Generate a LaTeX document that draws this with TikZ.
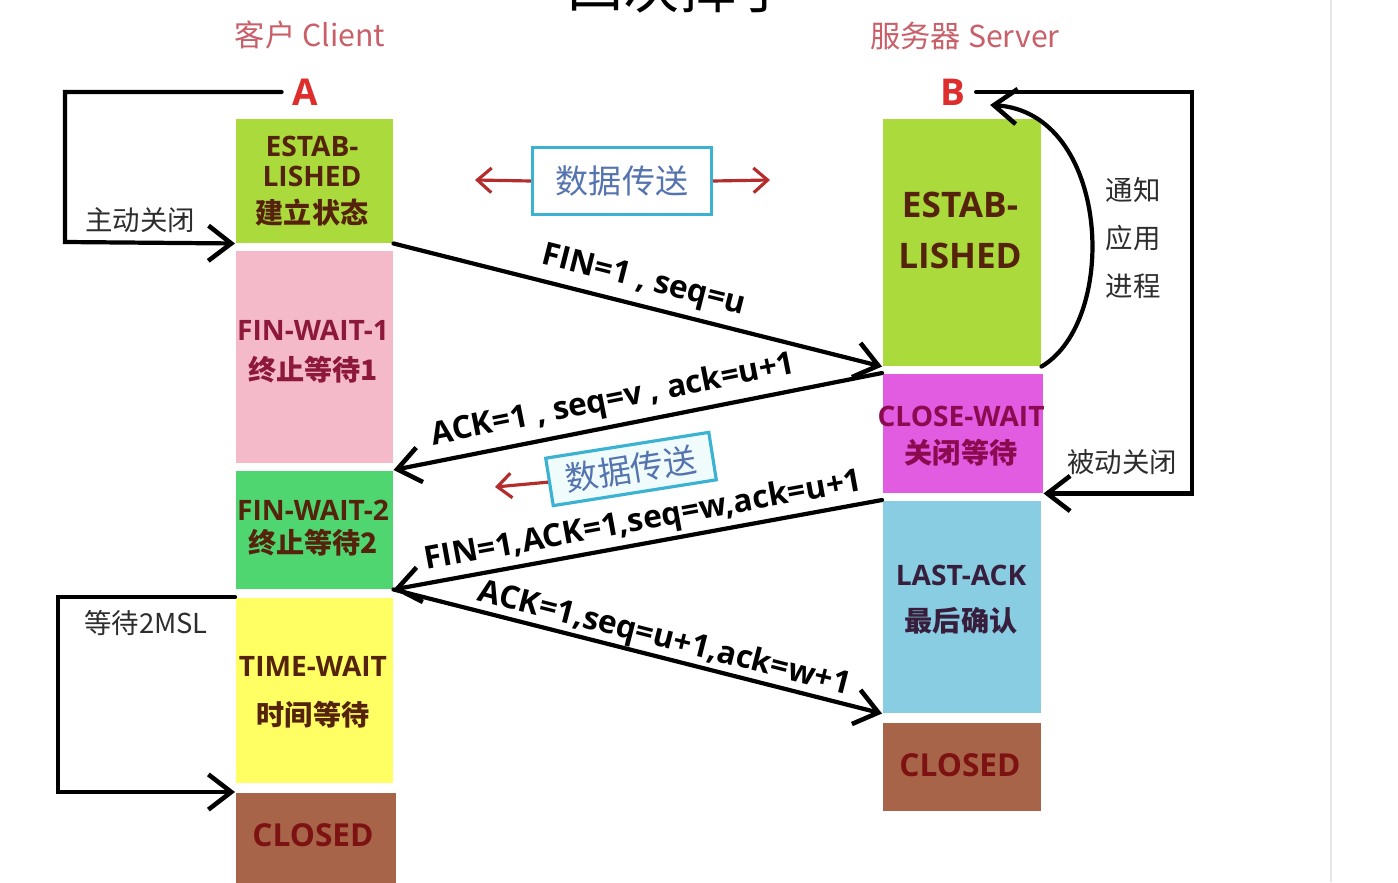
\documentclass[tikz,border=0pt]{standalone}
\usepackage{fontspec}
\setmainfont{Noto Sans CJK SC}
\newfontfamily\lat{Open Sans}
\usetikzlibrary{arrows.meta,calc}
\definecolor{cEst}{RGB}{170,218,60}
\definecolor{cPink}{RGB}{245,186,202}
\definecolor{cGreen}{RGB}{80,214,112}
\definecolor{cYel}{RGB}{255,255,100}
\definecolor{cBrown}{RGB}{168,100,72}
\definecolor{cMag}{RGB}{226,92,226}
\definecolor{cBlue}{RGB}{136,205,226}
\definecolor{hdr}{RGB}{200,95,105}
\definecolor{ltr}{RGB}{222,45,45}
\definecolor{tBrown}{RGB}{85,35,12}
\definecolor{tMaroon}{RGB}{140,25,60}
\definecolor{tDred}{RGB}{125,18,18}
\definecolor{tMag}{RGB}{140,10,80}
\definecolor{tPurp}{RGB}{55,30,60}
\definecolor{side}{RGB}{45,45,45}
\definecolor{dcyan}{RGB}{60,178,210}
\definecolor{dtext}{RGB}{85,115,175}
\definecolor{dred}{RGB}{180,45,45}
\definecolor{edge}{RGB}{230,230,230}
\begin{document}
\begin{tikzpicture}[x=0.01cm,y=-0.01cm,
  box/.style={rectangle, inner sep=0pt, anchor=north west},
  stlabel/.style={align=center, inner sep=0pt, font=\bfseries\fontsize{8pt}{9.5pt}\selectfont},
  wire/.style={line width=1.2pt, black, line cap=round},
  tip/.style={-{Straight Barb[length=6.5pt,width=10pt,line width=1.3pt]}},
  msg/.style={font=\lat\bfseries\fontsize{9pt}{11pt}\selectfont, sloped, above, inner sep=2pt},
  sidelab/.style={text=side, font=\fontsize{7.8pt}{13.6pt}\selectfont, align=center, inner sep=0pt},
  datab/.style={draw=dcyan, line width=0.9pt, fill=white, text=dtext, inner sep=0pt,
    font=\fontsize{9.4pt}{11pt}\selectfont},
  redarr/.style={draw=dred, line width=0.9pt, -{Straight Barb[length=4pt,width=7pt,line width=0.9pt]}}
]
\useasboundingbox (0,0) rectangle (1398,882);
\clip (0,0) rectangle (1398,882);
\fill[white] (0,0) rectangle (1398,882);
\draw[edge, line width=0.6pt] (1331,0) -- (1331,882);

% title (cut off at top)
\node[font=\fontsize{16pt}{18pt}\selectfont] (title) at (680,-13) {四次挥手};

% headers
\node[text=hdr, font=\fontsize{8.6pt}{10pt}\selectfont] (hc) at (310,35) {客户 Client};
\node[text=hdr, font=\fontsize{8.6pt}{10pt}\selectfont] (hs) at (965,36) {服务器 Server};
\node[text=ltr, font=\lat\bfseries\fontsize{10.5pt}{12pt}\selectfont, inner sep=0.1cm] (A) at (305,92) {A};
\node[text=ltr, font=\lat\bfseries\fontsize{10.5pt}{12pt}\selectfont, inner sep=0.1cm] (B) at (953,92) {B};

% client states
\node[box, fill=cEst,   minimum width=1.57cm, minimum height=1.24cm] (cE)  at (235,118) {};
\node[box, fill=cPink,  minimum width=1.57cm, minimum height=2.12cm] (cF1) at (235,250) {};
\node[box, fill=cGreen, minimum width=1.57cm, minimum height=1.18cm] (cF2) at (235,470) {};
\node[box, fill=cYel,   minimum width=1.57cm, minimum height=1.85cm] (cTW) at (235,597) {};
\node[box, fill=cBrown, minimum width=1.60cm, minimum height=0.92cm] (cCL) at (235,792) {};

\node[stlabel, text=tBrown] (tcE) at (312,181) {{\lat ESTAB-}\\[-1pt]{\lat LISHED}\\[1pt]建立状态};
\node[stlabel, text=tMaroon] (tcF1) at (313,352) {{\lat FIN-WAIT-1}\\[2pt]终止等待1};
\node[stlabel, text=tBrown] (tcF2) at (313,528) {{\lat FIN-WAIT-2}\\终止等待2};
\node[stlabel, text=tBrown, font=\bfseries\fontsize{8pt}{13pt}\selectfont] (tcTW) at (313,692) {{\lat TIME-WAIT}\\[1pt]时间等待};
\node[stlabel, text=tDred, font=\lat\bfseries\fontsize{9pt}{10pt}\selectfont] (tcCL) at (313,835) {CLOSED};

% server states
\node[box, fill=cEst,   minimum width=1.58cm, minimum height=2.47cm] (sE)  at (882,118) {};
\node[box, fill=cMag,   minimum width=1.60cm, minimum height=1.19cm] (sCW) at (882,373) {};
\node[box, fill=cBlue,  minimum width=1.58cm, minimum height=2.12cm] (sLA) at (882,500) {};
\node[box, fill=cBrown, minimum width=1.58cm, minimum height=0.88cm] (sCL) at (882,722) {};

\node[stlabel, text=tBrown, font=\lat\bfseries\fontsize{10pt}{14.5pt}\selectfont] (tsE) at (960,230) {ESTAB-\\LISHED};
\node[stlabel, text=tMag] (tsCW) at (961,436) {{\lat CLOSE-WAIT}\\[1pt]关闭等待};
\node[stlabel, text=tPurp, font=\bfseries\fontsize{8pt}{13pt}\selectfont] (tsLA) at (961,600) {{\lat LAST-ACK}\\最后确认};
\node[stlabel, text=tDred, font=\lat\bfseries\fontsize{9pt}{10pt}\selectfont] (tsCL) at (960,765) {CLOSED};

% data transfer boxes
\node[datab, minimum width=1.79cm, minimum height=0.67cm] (d1) at (622,181) {数据传送};
\coordinate (d1l) at (475,180);
\coordinate (d1r) at (770,180);
\draw[redarr] (d1.west) -- (d1l);
\draw[redarr] (d1.east) -- (d1r);

\node[datab, fill={rgb,255:red,240;green,252;blue,252}, minimum width=1.65cm, minimum height=0.48cm, rotate=9] (d2) at (631,469) {数据传送};
\coordinate (d2l) at (495,487);
\draw[redarr] (d2.west) -- (d2l);

% messages
\draw[wire, tip] (cE.south east) -- (sE.south west)
  node[msg, pos=0.5] (m1) {FIN=1 , seq=u};
\draw[wire, tip] (sCW.north west) -- (cF2.north east)
  node[msg, pos=0.54] (m2) {ACK=1 , seq=v , ack=u+1};
\draw[wire, tip] (sLA.north west) -- (cF2.south east)
  node[msg, pos=0.48, inner sep=1pt] (m3) {FIN=1,ACK=1,seq=w,ack=u+1};
\draw[wire, tip] (cF2.south east) -- (sLA.south west)
  node[msg, pos=0.545, inner sep=0pt] (m4) {ACK=1,seq=u+1,ack=w+1};

% client loops
\coordinate (lc1) at (65,242);
\draw[wire, tip] (A.west) -| (lc1) -- (cE.south west);
\node[sidelab] (zd) at (140,220) {主动关闭};

\coordinate (lc2) at (58,700);
\draw[wire, tip] (cTW.north west) -| (lc2) |- (cCL.north west);
\node[sidelab] (ms) at (146,623) {等待2MSL};

% server loops
\coordinate (ls1) at (1192,300);
\draw[wire, tip] (B.east) -| (ls1) |- (sCW.south east);
\node[sidelab] (bd) at (1122,462) {被动关闭};

\draw[wire, tip] (sE.south east) .. controls (1120,320) and (1110,112) .. ([shift={(14,13)}]B.east);
\node[sidelab] (tz) at (1133,238) {通知\\应用\\进程};
\end{tikzpicture}
\end{document}
